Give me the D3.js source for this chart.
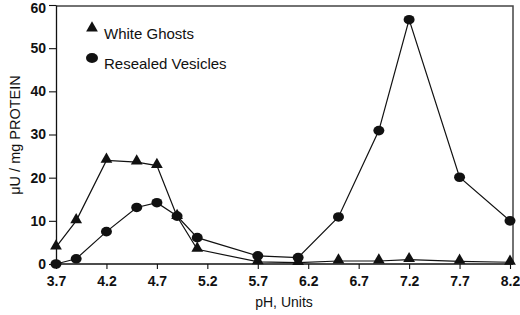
<!DOCTYPE html>
<html>
<head>
<meta charset="utf-8">
<script src="https://cdn.jsdelivr.net/npm/d3@7"></script>
<style>
  body { margin: 0; background: #fff; }
  svg { display: block; font-family: "Liberation Sans", Arial, sans-serif; }
</style>
</head>
<body>
<svg id="chart"></svg>
<script>
// pH values on the x axis
let ghostsPH = [3.7, 3.9, 4.2, 4.5, 4.7, 4.9, 5.1, 5.7, 6.1, 6.5, 6.9, 7.2, 7.7, 8.2];
let ghostsVal = [3.9, 10, 24, 23.6, 22.8, 11, 3.4, 0.5, 0.3, 0.7, 0.7, 1.0, 0.6, 0.4];
let vesiclesPH = [3.7, 3.9, 4.2, 4.5, 4.7, 4.9, 5.1, 5.7, 6.1, 6.5, 6.9, 7.2, 7.7, 8.2];
let vesiclesVal = [0, 1.2, 7.5, 13.1, 14.2, 11.1, 6.1, 1.9, 1.5, 10.9, 30.9, 56.6, 20.1, 10];
let xTicks = [3.7, 4.2, 4.7, 5.2, 5.7, 6.2, 6.7, 7.2, 7.7, 8.2];
let yTicks = [0, 10, 20, 30, 40, 50, 60];
let seriesNames = ['White Ghosts', 'Resealed Vesicles'];

let W = 520, H = 315,
    plotLeft = 56, plotRight = 510, frameRight = 513,
    plotTop = 5, plotBottom = 264,
    ink = '#111';

let svg = d3.select('#chart')
    .attr('width', W)
    .attr('height', H);

let x = d3.scaleLinear().domain([3.7, 8.2]).range([plotLeft, plotRight]);
let y = d3.scaleLinear().domain([0, 60]).range([plotBottom, plotTop]);

// frame: top and right border lines
svg.append('path')
    .attr('d', `M${plotLeft},${plotTop + 1}H${frameRight}V${plotBottom}`)
    .attr('fill', 'none')
    .attr('stroke', '#444')
    .attr('stroke-width', 1.5);

let xAxis = svg.append('g')
    .attr('transform', `translate(0,${plotBottom})`)
    .call(d3.axisBottom(x).tickValues(xTicks).tickFormat(d3.format('.1f')).tickSize(5).tickSizeOuter(0));

let yAxis = svg.append('g')
    .attr('transform', `translate(${plotLeft},0)`)
    .call(d3.axisLeft(y).tickValues(yTicks).tickSize(7).tickSizeOuter(0));

// extend the x axis line over to the right border
xAxis.select('.domain').attr('d', `M${plotLeft},0H${frameRight}`);

[xAxis, yAxis].forEach(g => {
  g.select('.domain').attr('stroke', ink).attr('stroke-width', 1.3);
  g.selectAll('.tick line').attr('stroke', ink).attr('stroke-width', 1.1);
  g.selectAll('.tick text')
    .attr('fill', ink)
    .attr('font-size', 14)
    .attr('font-weight', 'bold')
    .attr('font-family', '"Liberation Sans", Arial, sans-serif');
});
xAxis.selectAll('.tick text').attr('dy', '1.0em');
// top label nudged down so it stays inside the window
yAxis.selectAll('.tick text').attr('x', -10).attr('dy', d => d === 60 ? '0.55em' : '0.32em');

let line = d3.line().x(d => x(d[0])).y(d => y(d[1]));

let ghosts = d3.zip(ghostsPH, ghostsVal);
let vesicles = d3.zip(vesiclesPH, vesiclesVal);

svg.append('path')
    .datum(ghosts)
    .attr('d', line)
    .attr('fill', 'none')
    .attr('stroke', ink)
    .attr('stroke-width', 1.2);

svg.append('path')
    .datum(vesicles)
    .attr('d', line)
    .attr('fill', 'none')
    .attr('stroke', ink)
    .attr('stroke-width', 1.2);

let tri = d3.symbol().type(d3.symbolTriangle).size(60);

svg.selectAll('.tri')
    .data(ghosts)
    .enter()
    .append('path')
    .attr('class', 'tri')
    .attr('d', tri)
    .attr('transform', d => `translate(${x(d[0])},${y(d[1]) - 1})`)
    .attr('fill', ink);

svg.selectAll('.dot')
    .data(vesicles)
    .enter()
    .append('ellipse')
    .attr('class', 'dot')
    .attr('cx', d => x(d[0]))
    .attr('cy', d => y(d[1]))
    .attr('rx', 5.5)
    .attr('ry', 4.8)
    .attr('fill', ink);

// legend
let legend = svg.append('g');
legend.append('path')
    .attr('d', tri)
    .attr('transform', 'translate(92,28)')
    .attr('fill', ink);
legend.append('ellipse')
    .attr('cx', 92).attr('cy', 58)
    .attr('rx', 6).attr('ry', 5)
    .attr('fill', ink);
legend.selectAll('text')
    .data(seriesNames)
    .enter()
    .append('text')
    .attr('x', 104)
    .attr('y', (d, i) => i === 0 ? 39 : 69)
    .attr('font-size', 15)
    .attr('fill', ink)
    .text(d => d);

// axis titles
svg.append('text')
    .attr('transform', 'translate(20,135) rotate(-90)')
    .attr('text-anchor', 'middle')
    .attr('font-size', 14.5)
    .attr('fill', ink)
    .text('\u03bcU / mg PROTEIN');

svg.append('text')
    .attr('x', 284)
    .attr('y', 307)
    .attr('text-anchor', 'middle')
    .attr('font-size', 14)
    .attr('fill', ink)
    .text('pH, Units');
</script>
</body>
</html>
